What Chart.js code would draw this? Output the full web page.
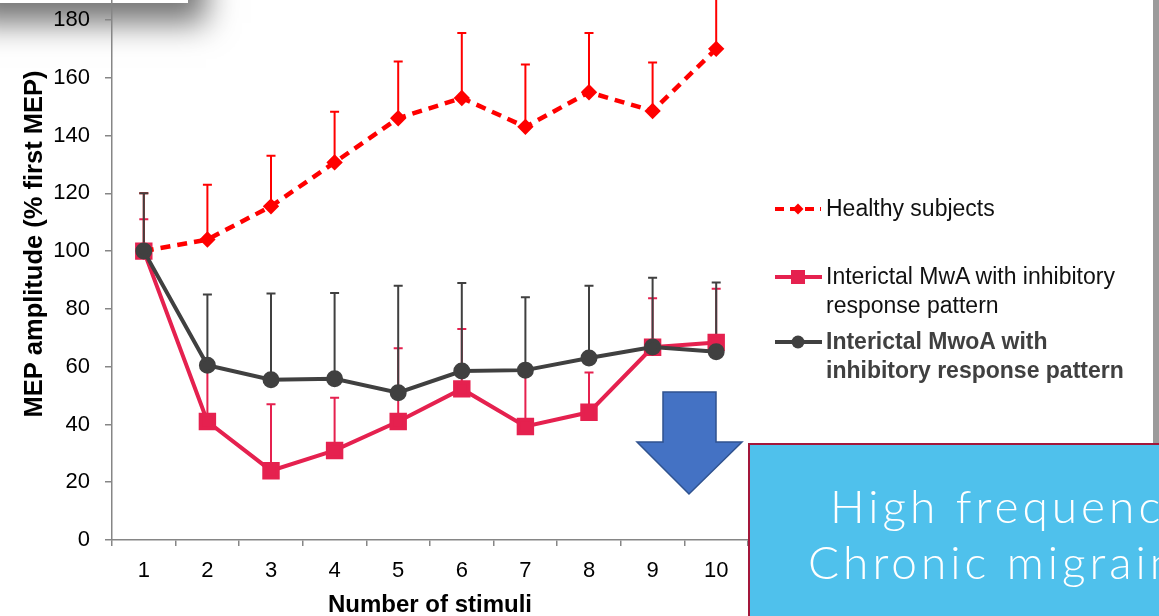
<!DOCTYPE html>
<html lang="en">
<head>
<meta charset="UTF-8">
<title>MEP amplitude</title>
<script src="https://cdn.jsdelivr.net/npm/chart.js"></script>
<style>
  html, body { margin: 0; padding: 0; width: 1159px; height: 616px; overflow: hidden; background: #fff; }
  body { position: relative; font-family: "Liberation Sans", Arial, sans-serif; }
  .shadowbox { position: absolute; left: -30px; top: -100px; width: 218px; height: 103px; background: #fff;
    box-shadow: 8px 10px 30px 10px rgba(0,0,0,0.55); }
  #wrap { position: absolute; left: 0; top: -66px; width: 1159px; height: 706px; }
  .legend { position: absolute; font-size: 23px; line-height: 28.5px; color: #111; white-space: nowrap; }
  .legend.bold { font-weight: bold; color: #404040; }
  .edge { position: absolute; left: 1153px; top: 0; width: 6px; height: 444px; background: #9b9b9b; }
  .box { position: absolute; left: 748px; top: 443px; width: 430px; height: 200px; background: #4fc1ec;
    border: 2px solid #a3173a; box-sizing: border-box; overflow: hidden; }
  .box div { position: absolute; color: #fff; font-family: "Lato", "Open Sans", sans-serif; font-weight: 300;
    font-size: 46px; letter-spacing: 4px; white-space: nowrap; line-height: 1; }
</style>
</head>
<body>
<div class="shadowbox"></div>
<div id="wrap"><canvas id="chart"></canvas></div>

<svg style="position:absolute;left:0;top:0" width="1159" height="616">
  <!-- legend symbols -->
  <line x1="775" y1="209" x2="821" y2="209" stroke="#ff0000" stroke-width="4" stroke-dasharray="9,6"/>
  <polygon points="798,203.5 803.5,209 798,214.5 792.5,209" fill="#ff0000"/>
  <line x1="775" y1="277" x2="822" y2="277" stroke="#e5214f" stroke-width="4"/>
  <rect x="791" y="270" width="14" height="14" fill="#e5214f"/>
  <line x1="775" y1="342" x2="822" y2="342" stroke="#404040" stroke-width="4"/>
  <circle cx="798" cy="342" r="6.5" fill="#404040"/>
  <!-- arrow -->
  <polygon points="663,392 716,392 716,442 742,442 689,494 637,442 663,442" fill="#4472c4" stroke="#2f528f" stroke-width="1.5"/>
</svg>

<div class="legend" style="left:826px;top:194px">Healthy subjects</div>
<div class="legend" style="left:826px;top:262px">Interictal MwA with inhibitory<br>response pattern</div>
<div class="legend bold" style="left:826px;top:327px">Interictal MwoA with<br>inhibitory response pattern</div>

<div class="edge"></div>
<div class="box">
  <div style="left:80px;top:38px">High frequency</div>
  <div style="left:58px;top:94px">Chronic migraine</div>
</div>

<script>
// categories and values
const stimuli = ['1', '2', '3', '4', '5', '6', '7', '8', '9', '10'];
const healthy = [100, 104, 115.5, 130.7, 146, 153, 143, 155, 148.5, 170];
const healthyUpper = [120, 123, 133, 148.2, 165.6, 175.5, 164.6, 175.5, 165.3, 190];
const mwa = [100, 41, 24, 31, 41, 52.3, 39.3, 44.2, 66.7, 68.4];
const mwaUpper = [111, 59, 47, 49.2, 66.4, 73, 57, 58, 83.7, 87];
const mwoa = [100, 60.5, 55.5, 55.8, 51, 58.5, 58.8, 63, 66.8, 65.2];
const mwoaUpper = [120, 85, 85.3, 85.5, 88, 89, 84, 88, 90.8, 89.1];
const yTicks = [0, 20, 40, 60, 80, 100, 120, 140, 160, 180, 200];

const axisGray = '#868686';
const font = { family: '"Liberation Sans", Arial, sans-serif' };

// upward error bars, drawn under the lines
const errorBars = {
  id: 'errorBars',
  beforeDatasetsDraw(chart) {
    const ctx = chart.ctx;
    const y = chart.scales.y;
    const order = [2, 1, 0];
    ctx.save();
    order.forEach(i => {
      const ds = chart.data.datasets[i];
      const meta = chart.getDatasetMeta(i);
      ctx.strokeStyle = ds.borderColor;
      ctx.lineWidth = 2;
      meta.data.forEach((pt, j) => {
        const top = y.getPixelForValue(ds.upper[j]);
        ctx.beginPath();
        ctx.moveTo(pt.x, pt.y);
        ctx.lineTo(pt.x, top);
        ctx.moveTo(pt.x - 4.5, top);
        ctx.lineTo(pt.x + 4.5, top);
        ctx.stroke();
      });
    });
    ctx.restore();
  }
};

new Chart(document.getElementById('chart'), {
  type: 'line',
  data: {
    labels: stimuli,
    datasets: [
      {
        label: 'Interictal MwoA with inhibitory response pattern',
        data: mwoa, upper: mwoaUpper,
        borderColor: '#404040', backgroundColor: '#404040',
        borderWidth: 4, pointStyle: 'circle', pointRadius: 6.5, order: 0
      },
      {
        label: 'Healthy subjects',
        data: healthy, upper: healthyUpper,
        borderColor: '#ff0000', backgroundColor: '#ff0000',
        borderWidth: 4.5, borderDash: [10, 7], pointStyle: 'rectRot', pointRadius: 5, order: 1
      },
      {
        label: 'Interictal MwA with inhibitory response pattern',
        data: mwa, upper: mwaUpper,
        borderColor: '#e5214f', backgroundColor: '#e5214f',
        borderWidth: 4, pointStyle: 'rect', pointRadius: 9.5, order: 2
      }
    ]
  },
  options: {
    responsive: true,
    maintainAspectRatio: false,
    animation: false,
    layout: { padding: { top: 0, right: 411, left: 0, bottom: 0 } },
    plugins: { legend: { display: false }, tooltip: { enabled: false } },
    elements: { line: { tension: 0 }, point: { borderWidth: 1 } },
    scales: {
      x: {
        offset: true,
        grid: { offset: true, drawOnChartArea: false, tickLength: 6, color: axisGray, lineWidth: 1.5 },
        border: { color: axisGray, width: 1.5 },
        ticks: { color: '#000', font: { ...font, size: 22 }, padding: 12 },
        title: { display: true, text: 'Number of stimuli', color: '#000',
          font: { ...font, size: 24, weight: 'bold' }, padding: { bottom: 20 } },
        afterFit(scale) { scale.height = 100; }
      },
      y: {
        min: 0, max: 200,
        afterBuildTicks(scale) { scale.ticks = yTicks.map(v => ({ value: v })); },
        grid: { drawOnChartArea: false, tickLength: 7, color: axisGray, lineWidth: 1.5 },
        border: { color: axisGray, width: 1.5 },
        ticks: { color: '#000', font: { ...font, size: 22 }, padding: 15 },
        title: { display: true, text: '  MEP amplitude (% first MEP)', color: '#000',
          font: { ...font, size: 25.5, weight: 'bold' }, padding: { top: 20 } },
        afterFit(scale) { scale.width = 112; }
      }
    }
  },
  plugins: [errorBars]
});
</script>
</body>
</html>
